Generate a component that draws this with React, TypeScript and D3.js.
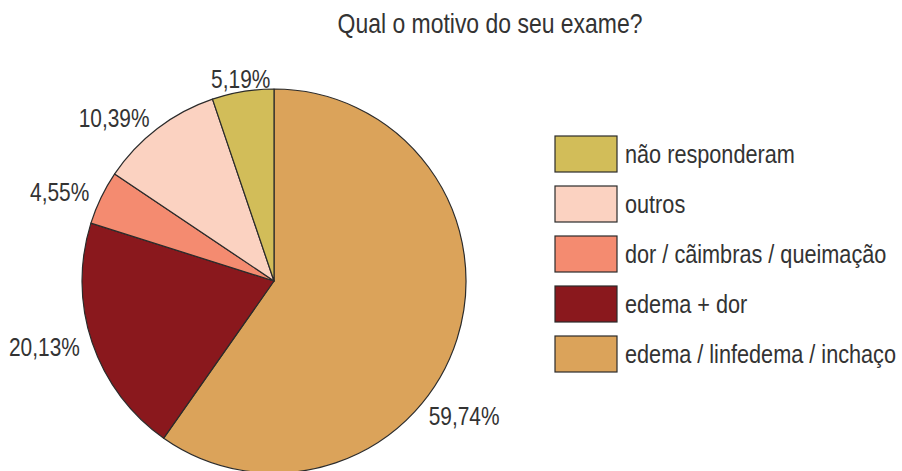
import React, { useEffect, useRef } from "react";
import * as d3 from "d3";

// data, in clockwise order from 12 o'clock
const categories = [
  "edema / linfedema / inchaço",
  "edema + dor",
  "dor / cãimbras / queimação",
  "outros",
  "não responderam",
];
const values = [59.74, 20.13, 4.55, 10.39, 5.19];
const valueLabels = ["59,74%", "20,13%", "4,55%", "10,39%", "5,19%"];
const colors = ["#DBA35A", "#8A181D", "#F48B70", "#FBD2C1", "#D2BD59"];
const title = "Qual o motivo do seu exame?";

const App = () => {
  const ref = useRef<SVGSVGElement | null>(null);

  useEffect(() => {
    document.body.style.margin = "0";

    const width = 902;
    const height = 471;
    const cx = 274;
    const cy = 281;
    const radius = 192;
    const labelRadius = 205;
    // no narrow font installed, so squeeze Liberation Sans like Arial Narrow
    const font = "'Liberation Sans', Arial, sans-serif";
    const narrow = 0.82;
    const textColor = "#333";
    // the big slice's label was moved by hand in the original
    const labelAngleShift = [23.5, 0, 0, 0, 0];

    const svg = d3.select(ref.current);
    svg.selectAll("*").remove();
    svg.attr("width", width).attr("height", height);

    const rows = categories.map((c, i) => ({
      name: c,
      value: values[i],
      label: valueLabels[i],
      color: colors[i],
      shift: labelAngleShift[i],
    }));

    const pie = d3
      .pie<any>()
      .sort(null)
      .value((d) => d.value);
    const arcs = pie(rows);

    const arc = d3.arc<any>().innerRadius(0).outerRadius(radius);

    const g = svg.append("g").attr("transform", `translate(${cx},${cy})`);

    g.selectAll("path")
      .data(arcs)
      .join("path")
      .attr("d", arc)
      .attr("fill", (d) => d.data.color)
      .attr("stroke", "#2b2b2b")
      .attr("stroke-width", 1.2)
      .attr("stroke-linejoin", "round");

    // value labels outside the pie
    g.selectAll("text")
      .data(arcs)
      .join("text")
      .each(function (d) {
        const a = (d.startAngle + d.endAngle) / 2 + (d.data.shift * Math.PI) / 180;
        const x = labelRadius * Math.sin(a);
        const y = -labelRadius * Math.cos(a);
        const s = Math.sin(a);
        const anchor = Math.abs(s) < 0.3 ? "middle" : s > 0 ? "start" : "end";
        d3.select(this)
          .attr("transform", `translate(${x},${y}) scale(${narrow},1)`)
          .attr("dy", "0.36em")
          .attr("text-anchor", anchor);
      })
      .text((d) => d.data.label)
      .attr("font-family", font)
      .attr("font-size", 25.5)
      .attr("fill", textColor);

    // title
    svg
      .append("text")
      .attr("transform", `translate(490,33) scale(${narrow},1)`)
      .attr("text-anchor", "middle")
      .attr("font-family", font)
      .attr("font-size", 28)
      .attr("fill", textColor)
      .text(title);

    // legend (reverse order, top to bottom)
    const legendRows = rows.slice().reverse();
    const ly = d3
      .scaleBand()
      .domain(legendRows.map((d) => d.name))
      .range([136, 372])
      .paddingInner(0.28)
      .paddingOuter(0);

    const legend = svg.append("g").attr("transform", "translate(555,0)");
    legend
      .selectAll("rect")
      .data(legendRows)
      .join("rect")
      .attr("x", 0)
      .attr("y", (d) => ly(d.name)!)
      .attr("width", 62)
      .attr("height", ly.bandwidth())
      .attr("fill", (d) => d.color)
      .attr("stroke", "#2b2b2b")
      .attr("stroke-width", 1.2);

    legend
      .selectAll("text")
      .data(legendRows)
      .join("text")
      .attr(
        "transform",
        (d) => `translate(70,${ly(d.name)! + ly.bandwidth() / 2}) scale(0.85,1)`
      )
      .attr("dy", "0.36em")
      .attr("font-family", font)
      .attr("font-size", 25.5)
      .attr("fill", textColor)
      .text((d) => d.name);
  }, []);

  return <svg ref={ref} style={{ display: "block" }} />;
};

export default App;
